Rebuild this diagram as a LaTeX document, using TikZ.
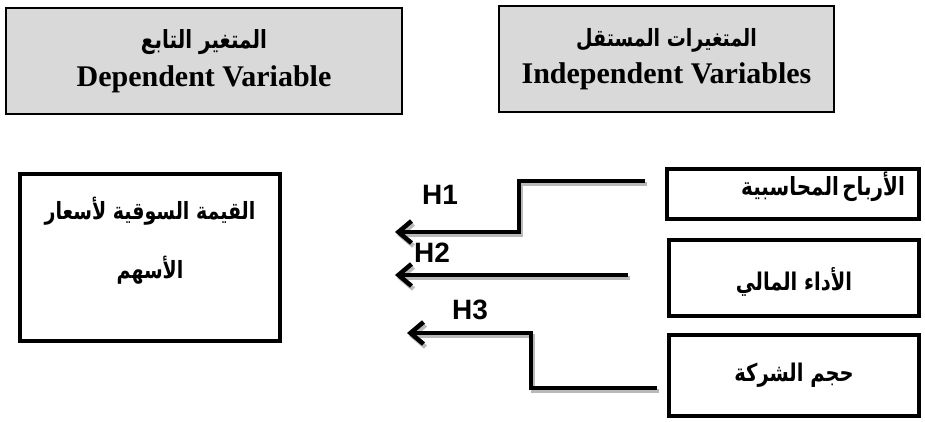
\documentclass[tikz,border=0pt]{standalone}
\usepackage{fontspec}
\setmainfont{Liberation Serif}
\newfontfamily\arabicfont[Script=Arabic]{DejaVu Sans}
\newfontfamily\hfont{Liberation Sans}
\TeXXeTstate=1
\usetikzlibrary{arrows.meta}
\tikzset {>={Straight Barb[length=13pt,width=22pt]}}
\tikzset{
  headbox/.style={draw,fill=gray!30,line width=2.4pt,align=center,inner sep=0pt},
  varbox/.style={draw,line width=4.5pt,inner sep=0pt,align=center},
  link/.style={line width=4.5pt,->},
  linkshadow/.style={link,draw=gray!55,transform canvas={shift={(2pt,-3pt)}}},
  hlabel/.style={font=\hfont\bfseries\fontsize{28}{28}\selectfont}
}
\newcommand{\ar}[1]{\scalebox{1}[1.25]{\arabicfont\bfseries\beginR #1\endR}}

\begin{document}
\begin{tikzpicture}[x=1pt,y=-1pt]
\useasboundingbox (0,0) rectangle (925,421);

% header boxes
\node[headbox,minimum width=396pt,minimum height=106pt] (dep) at (204,61)
  {\fontsize{20}{24}\selectfont\ar{المتغير التابع}\\[10pt]
   \fontsize{30}{32}\selectfont\bfseries Dependent Variable};
\node[headbox,minimum width=335pt,minimum height=106pt] (indep) at (666.5,59)
  {\fontsize{19}{24}\selectfont\ar{المتغيرات المستقل}\\[10pt]
   \fontsize{30}{32}\selectfont\bfseries Independent Variables};

% dependent variable
\node[varbox,minimum width=260pt,minimum height=167pt,text depth=39pt] (price) at (150,257.5)
  {\fontsize{19}{40}\selectfont\ar{القيمة السوقية لأسعار}\\[30pt]
   \fontsize{19}{40}\selectfont\ar{الأسهم}};

% independent variables
\node[varbox,minimum width=252pt,minimum height=50pt,text width=224pt,align=right,
  text depth=20pt] (profit) at (793,194)
  {\fontsize{20}{24}\selectfont\ar{الأرباح المحاسبية}};
\node[varbox,minimum width=250pt,minimum height=76pt,text height=24pt,text depth=0pt] (perf) at (794,278)
  {\fontsize{19.5}{24}\selectfont\ar{الأداء المالي}};
\node[varbox,minimum width=250pt,minimum height=81pt] (size) at (794,375.5)
  {\fontsize{19.5}{24}\selectfont\ar{حجم الشركة}};

% hypotheses
\coordinate (h1s) at (645,181);
\coordinate (h1b) at (519,232);
\coordinate (h1e) at (395,232);
\coordinate (h2s) at (628,275);
\coordinate (h2e) at (395,275);
\coordinate (h3s) at (657,388);
\coordinate (h3b) at (531,333);
\coordinate (h3e) at (407,333);

\draw[linkshadow] (h1s) -| (h1b) -- (h1e);
\draw[linkshadow] (h2s) -- (h2e);
\draw[linkshadow] (h3s) -| (h3b) -- (h3e);
\draw[link] (h1s) -| (h1b) -- (h1e);
\draw[link] (h2s) -- (h2e);
\draw[link] (h3s) -| (h3b) -- (h3e);

\node[hlabel] (h1) at (440,195) {H1};
\node[hlabel] (h2) at (432,253) {H2};
\node[hlabel] (h3) at (470,310) {H3};
\end{tikzpicture}
\end{document}
